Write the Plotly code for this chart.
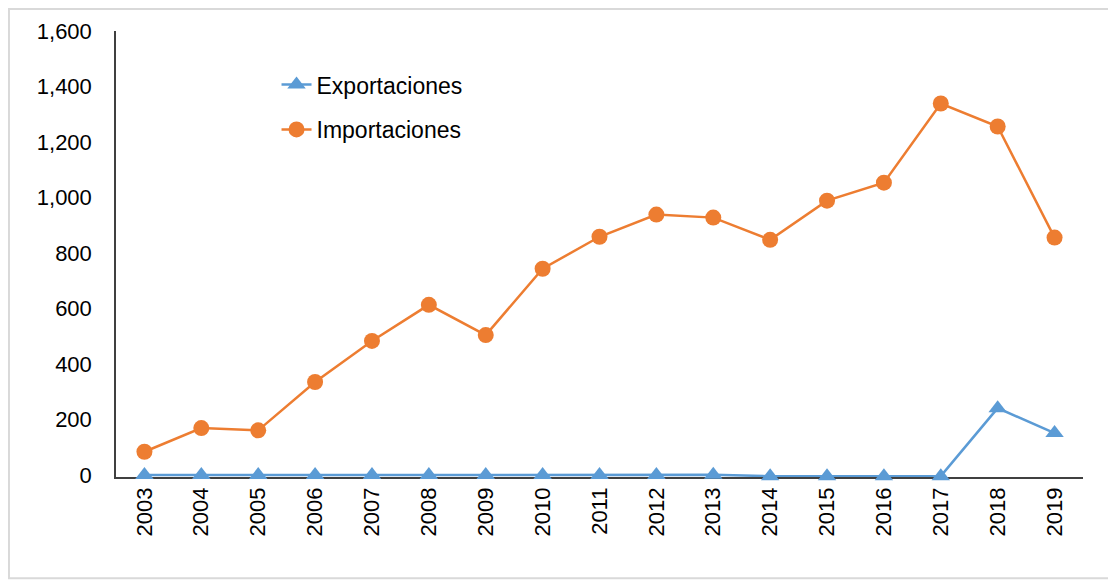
import plotly.graph_objects as go

# Data
years = [str(y) for y in range(2003, 2020)]
exportaciones = [1, 1, 1, 1, 1, 1, 1, 1, 1, 1, 2, -3, -3, -3, -3, 242, 152]
importaciones = [85, 170, 162, 336, 484, 614, 505, 744, 859, 939, 928, 848, 989, 1054, 1339, 1256, 856]

blue = "#5B9BD5"
orange = "#ED7D31"

fig = go.Figure()

fig.add_trace(go.Scatter(
    x=years, y=exportaciones, name="Exportaciones",
    mode="lines+markers", legendgroup="exp",
    line=dict(color=blue, width=2.5),
    marker=dict(symbol="triangle-up", size=16, color=blue),
    cliponaxis=False,
))
fig.add_trace(go.Scatter(
    x=years, y=importaciones, name="Importaciones",
    mode="lines+markers", legendgroup="imp",
    line=dict(color=orange, width=2.5),
    marker=dict(symbol="circle", size=16, color=orange),
    cliponaxis=False,
))

# Light outer frame like the original image
fig.add_shape(
    type="rect", xref="paper", yref="paper",
    x0=-0.1107, x1=1.032, y0=-0.227, y1=1.0495,
    line=dict(color="#D9D9D9", width=2),
)

# the page has an 8px body margin, so margins are shifted to compensate
fig.update_layout(
    width=1116,
    height=580,
    margin=dict(l=108, r=41, t=23, b=111),
    paper_bgcolor="white",
    plot_bgcolor="white",
    font=dict(family="Liberation Sans, Arial, sans-serif", size=22, color="#000000"),
    legend=dict(
        x=0.166, y=0.928, xanchor="left", yanchor="top",
        bgcolor="rgba(0,0,0,0)",
        font=dict(size=23),
        tracegroupgap=12,
    ),
    xaxis=dict(
        type="category",
        range=[-0.5, 16.5],
        showline=True, linecolor="#404040", linewidth=1.5,
        showgrid=False, ticks="",
        tickangle=-90,
        tickfont=dict(size=22),
        layer="below traces",
    ),
    yaxis=dict(
        range=[-6, 1600],
        tickvals=[0, 200, 400, 600, 800, 1000, 1200, 1400, 1600],
        tickformat=",",
        showline=True, linecolor="#404040", linewidth=1.5,
        showgrid=False, zeroline=False, ticks="",
        ticklabelstandoff=18,
        tickfont=dict(size=22),
        layer="below traces",
    ),
)

fig.write_html("out.html")
